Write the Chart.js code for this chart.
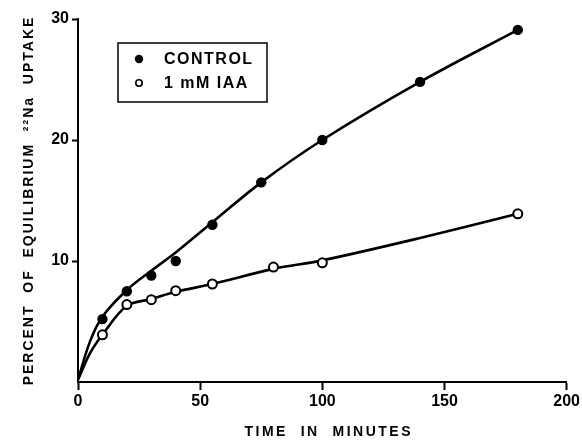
<!DOCTYPE html>
<html>
<head>
<meta charset="utf-8">
<script src="https://cdn.jsdelivr.net/npm/chart.js@4.4.1/dist/chart.umd.min.js"></script>
<style>
  html, body { margin: 0; padding: 0; background: #fff; }
  #wrap { width: 582px; height: 442px; }
</style>
</head>
<body>
<div id="wrap"><canvas id="c" width="582" height="442"></canvas></div>
<script>
// ---- data ----
const controlLabel = 'CONTROL';
const iaaLabel = '1 mM IAA';

const controlMinutes = [10, 20, 30, 40, 55, 75, 100, 140, 180];
const controlUptake  = [5.2, 7.5, 8.8, 10.0, 13.0, 16.5, 20.0, 24.8, 29.1];

const iaaMinutes = [10, 20, 30, 40, 55, 80, 100, 180];
const iaaUptake  = [3.9, 6.4, 6.8, 7.55, 8.1, 9.5, 9.85, 13.9];

// hand-drawn fitted curves
const controlCurveMinutes = [0, 5, 10, 20, 30, 40, 55, 75, 100, 140, 180];
const controlCurveUptake  = [0.2, 3.4, 5.4, 7.6, 9.2, 10.7, 13.2, 16.5, 20.0, 24.8, 29.1];

const iaaCurveMinutes = [0, 5, 10, 20, 30, 40, 55, 80, 100, 140, 180];
const iaaCurveUptake  = [0.2, 2.4, 3.9, 6.3, 6.85, 7.45, 8.1, 9.35, 10.05, 11.9, 13.9];

const xTicks = [0, 50, 100, 150, 200];
const yTicks = [10, 20, 30];

const xTitle = '  TIME  IN  MINUTES';
const yTitle = 'PERCENT  OF  EQUILIBRIUM  \u00B2\u00B2Na  UPTAKE';

// ---- build ----
const pts = (xs, ys) => xs.map((x, i) => ({ x: x, y: ys[i] }));
const FAMILY = '"Liberation Sans", Arial, sans-serif';

function spacedTitle(scale, spacing) {
  if (scale._spacedTitle) return;
  scale._spacedTitle = true;
  const orig = scale.drawTitle;
  scale.drawTitle = function () {
    const c = this.ctx;
    const prev = c.letterSpacing;
    try { c.letterSpacing = spacing; } catch (e) {}
    orig.apply(this, arguments);
    try { c.letterSpacing = prev || '0px'; } catch (e) {}
  };
}

const legendBox = {
  id: 'legendBox',
  afterDatasetsDraw(chart) {
    const ctx = chart.ctx;
    ctx.save();
    ctx.strokeStyle = '#000';
    ctx.lineWidth = 1.5;
    ctx.strokeRect(118, 43, 149, 59);
    const items = [chart.data.datasets[0], chart.data.datasets[1]];
    const ys = [59, 83];
    items.forEach((ds, i) => {
      ctx.beginPath();
      ctx.arc(139, ys[i], i === 0 ? 4.2 : 3.2, 0, Math.PI * 2);
      if (i === 0) { ctx.fillStyle = '#000'; ctx.fill(); }
      else { ctx.fillStyle = '#fff'; ctx.fill(); ctx.lineWidth = 1.6; ctx.stroke(); }
      ctx.fillStyle = '#000';
      ctx.font = 'bold 16px ' + FAMILY;
      ctx.textBaseline = 'middle';
      ctx.textAlign = 'left';
      try { ctx.letterSpacing = '1.5px'; } catch (e) {}
      ctx.fillText(ds.label, 164, ys[i] + 1);
      try { ctx.letterSpacing = '0px'; } catch (e) {}
    });
    ctx.restore();
  }
};

new Chart(document.getElementById('c'), {
  type: 'scatter',
  data: {
    datasets: [
      {
        label: controlLabel,
        data: pts(controlMinutes, controlUptake),
        showLine: false,
        pointRadius: 5.2,
        pointBackgroundColor: '#000',
        pointBorderColor: '#000',
        pointBorderWidth: 0
      },
      {
        label: iaaLabel,
        data: pts(iaaMinutes, iaaUptake),
        showLine: false,
        pointRadius: 4.5,
        pointBackgroundColor: '#fff',
        pointBorderColor: '#000',
        pointBorderWidth: 2
      },
      {
        label: 'control fit',
        data: pts(controlCurveMinutes, controlCurveUptake),
        showLine: true,
        borderColor: '#000',
        borderWidth: 2.6,
        pointRadius: 0,
        tension: 0.35,
        fill: false
      },
      {
        label: 'IAA fit',
        data: pts(iaaCurveMinutes, iaaCurveUptake),
        showLine: true,
        borderColor: '#000',
        borderWidth: 2.6,
        pointRadius: 0,
        tension: 0.35,
        fill: false
      }
    ]
  },
  options: {
    responsive: false,
    animation: false,
    devicePixelRatio: 1,
    layout: { padding: { top: 19, right: 15, left: 0, bottom: 0 } },
    plugins: {
      legend: { display: false },
      tooltip: { enabled: false }
    },
    scales: {
      x: {
        type: 'linear',
        min: 0, max: 200,
        afterBuildTicks(scale) { scale.ticks = xTicks.map(v => ({ value: v })); },
        afterFit(scale) { scale.height = 60; spacedTitle(scale, '2.5px'); },
        ticks: {
          color: '#000',
          font: { family: FAMILY, size: 16, weight: 'bold' },
          padding: 2,
          maxRotation: 0
        },
        grid: { drawOnChartArea: false, drawTicks: true, tickLength: 8, color: '#000', tickWidth: 2 },
        border: { display: true, color: '#000', width: 2 },
        title: {
          display: true,
          text: xTitle,
          color: '#000',
          font: { family: FAMILY, size: 14, weight: 'bold' },
          padding: { top: 0, bottom: 1 }
        }
      },
      y: {
        type: 'linear',
        min: 0, max: 30,
        afterBuildTicks(scale) { scale.ticks = yTicks.map(v => ({ value: v })); },
        afterFit(scale) { scale.width = 78; spacedTitle(scale, '2px'); },
        ticks: {
          color: '#000',
          font: { family: FAMILY, size: 16, weight: 'bold' },
          padding: 3
        },
        grid: { drawOnChartArea: false, drawTicks: true, tickLength: 6, color: '#000', tickWidth: 2 },
        border: { display: true, color: '#000', width: 2 },
        title: {
          display: true,
          text: yTitle,
          color: '#000',
          font: { family: FAMILY, size: 14, weight: 'bold' },
          padding: { top: 21, bottom: 0 }
        }
      }
    }
  },
  plugins: [legendBox]
});
</script>
</body>
</html>
